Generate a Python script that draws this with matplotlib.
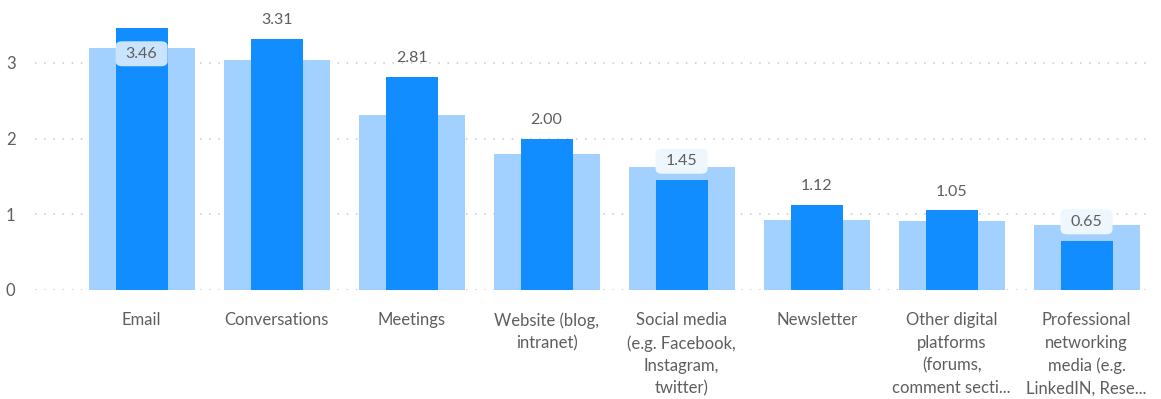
import matplotlib
matplotlib.use("Agg")
import matplotlib.pyplot as plt
from matplotlib.patches import FancyBboxPatch

categories = [
    "Email",
    "Conversations",
    "Meetings",
    "Website (blog,\nintranet)",
    "Social media\n(e.g. Facebook,\nInstagram,\ntwitter)",
    "Newsletter",
    "Other digital\nplatforms\n(forums,\ncomment secti...",
    "Professional\nnetworking\nmedia (e.g.\nLinkedIN, Rese...",
]
values = [3.46, 3.31, 2.81, 2.00, 1.45, 1.12, 1.05, 0.65]
reference = [3.20, 3.04, 2.31, 1.80, 1.62, 0.925, 0.91, 0.855]
label_inside = [True, False, False, False, False, False, False, False]
yticks = [0, 1, 2, 3]

DARK = "#118DFF"
LIGHT = "#A3D1FF"
TEXT = "#605E5C"
FONT = ["Lato", "DejaVu Sans"]

W, H = 1161, 399
fig = plt.figure(figsize=(W / 100, H / 100), dpi=100)
ax = fig.add_axes([35 / W, 109 / H, 1115 / W, 290 / H])

x = list(range(len(categories)))
ax.bar(x, reference, width=0.785, color=LIGHT, zorder=1)
ax.bar(x, values, width=0.385, color=DARK, zorder=2)

ax.set_xlim(-0.79, 7.47)
ax.set_ylim(0, 3.83)

ax.set_yticks(yticks)
ax.set_yticklabels([str(t) for t in yticks], fontsize=12, color=TEXT, family=FONT)
ax.set_xticks(x)
ax.set_xticklabels(categories, fontsize=12, color=TEXT, family=FONT, linespacing=1.5,
                   va="top")
ax.tick_params(axis="both", length=0)
ax.tick_params(axis="y", pad=14)
ax.tick_params(axis="x", pad=16)
for s in ax.spines.values():
    s.set_visible(False)

for t in yticks:
    ax.axhline(t, color="#C8C8C8", lw=1.1, ls=(0, (1, 5)), zorder=0)

box_h = 0.34
box_w = 0.385
for xi, v, ref, inside in zip(x, values, reference, label_inside):
    if inside:
        cy = v - 0.34
        face = "#C9E4FC"
        draw_box = True
    else:
        cy = v + 0.25
        face = "#EEF6FE"
        draw_box = (cy - box_h / 2) < ref
    if draw_box:
        patch = FancyBboxPatch((xi - box_w / 2 + 0.02, cy - box_h / 2 + 0.03),
                               box_w - 0.04, box_h - 0.06,
                               boxstyle="round,pad=0.02,rounding_size=0.05",
                               mutation_aspect=1 / 0.04 * 0.05,
                               fc=face, ec="none", zorder=3)
        ax.add_patch(patch)
    ax.text(xi, cy, f"{v:.2f}", ha="center", va="center", fontsize=11.5,
            color=TEXT, family=FONT, zorder=4)

fig.savefig("out.png", dpi=100)
